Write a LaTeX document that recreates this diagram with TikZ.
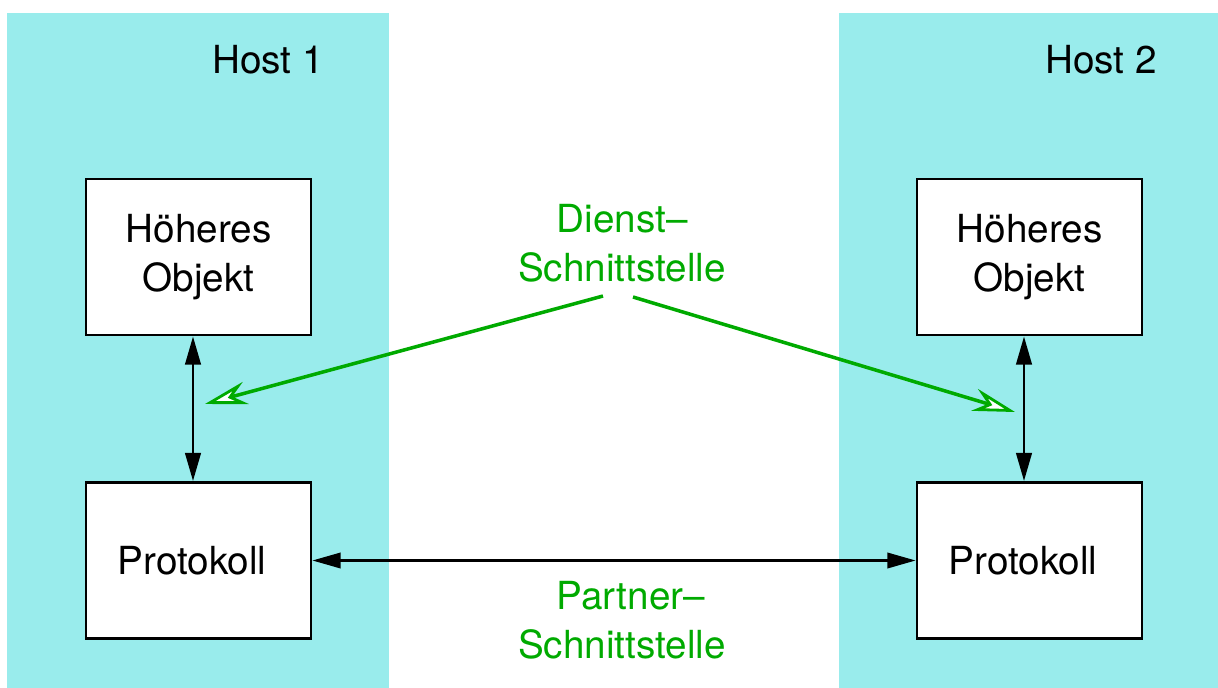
\documentclass[tikz,border=0pt]{standalone}
\usepackage{fontspec}
\setmainfont{TeX Gyre Heros}
\usetikzlibrary{arrows.meta}
\definecolor{hostcyan}{RGB}{153,236,236}
\definecolor{ifgreen}{RGB}{0,170,0}

\begin{document}
\begin{tikzpicture}[x=0.01cm,y=-0.01cm,thick,
  font=\fontsize{11}{14}\selectfont,
  >={Triangle[length=8pt,width=4.4pt]},
  box/.style={draw,fill=white,minimum width=2.25cm,minimum height=1.56cm,align=center},
  hint/.style={draw=ifgreen,line width=1pt,-{Stealth[length=12pt,width=6.5pt,inset=4pt,open,fill=white,line width=0.8pt]}}]
  \useasboundingbox (0,0) rectangle (1218,688);

  % the two hosts
  \fill[hostcyan] (7,13) rectangle (389,688);
  \fill[hostcyan] (839,13) rectangle (1218,688);
  \node (h1) at (268,60) {Host 1};
  \node (h2) at (1101,60) {Host 2};

  \node [box] (obj1) at (198.5,257) {Höheres\\Objekt};
  \node [box] (prot1) at (198.5,560.5) {\hspace*{-0.13cm}Protokoll};
  \node [box] (obj2) at (1029.5,257) {Höheres\\Objekt};
  \node [box] (prot2) at (1029.5,560.5) {\hspace*{-0.13cm}Protokoll};

  \draw[<->] ([xshift=-0.055cm]obj1.south) -- ([xshift=-0.055cm]prot1.north);
  \draw[<->] ([xshift=-0.055cm]obj2.south) -- ([xshift=-0.055cm]prot2.north);
  \draw[<->,semithick] (prot1) -- (prot2);

  % interfaces
  \node [text=ifgreen,align=center] (dienst) at (622,243) {Dienst--\\Schnittstelle};
  \node [text=ifgreen,align=center] (partner) at (622,620) {\hspace*{0.18cm}Partner--\\Schnittstelle};
  \coordinate (d1) at (603,296);
  \coordinate (d2) at (633,297);
  \coordinate (t1) at (205,404);
  \coordinate (t2) at (1015,412);
  \draw[hint] (d1) -- (t1);
  \draw[hint] (d2) -- (t2);
\end{tikzpicture}
\end{document}
